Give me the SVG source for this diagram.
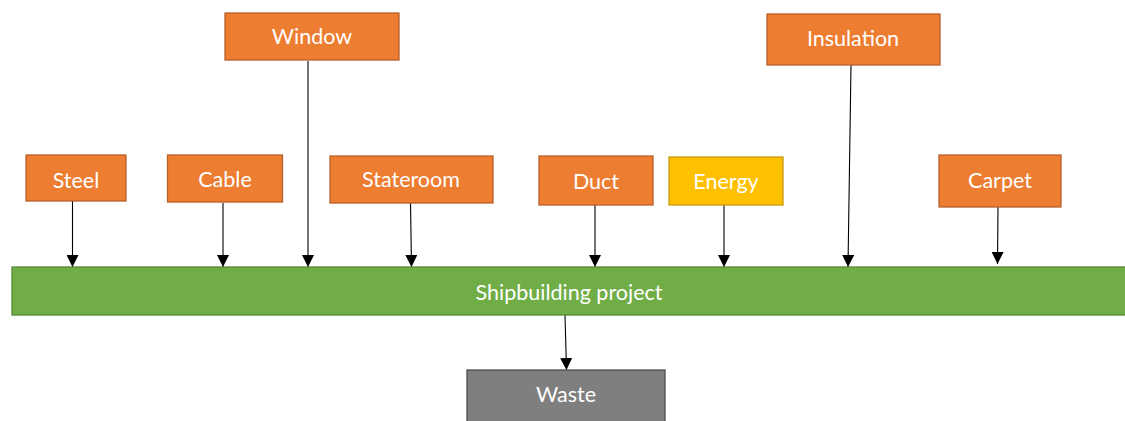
<svg xmlns="http://www.w3.org/2000/svg" width="1125" height="421" viewBox="0 0 1125 421">
  <style>
    .box { stroke-width: 1.3; }
    .orange { fill: #ED7D31; stroke: #B8602A; }
    .yellow { fill: #FFC000; stroke: #C99A10; }
    .green { fill: #70AD47; stroke: #558A35; }
    .grey { fill: #7F7F7F; stroke: #4D4D4D; }
    .label { font-family: Lato, "Liberation Sans", sans-serif; font-size: 21.5px; fill: #FFFFFF; text-anchor: middle; dominant-baseline: central; }
    .link { stroke: #000000; stroke-width: 1.1; fill: none; marker-end: url(#arrow); }
  </style>
  <defs>
    <marker id="arrow" viewBox="0 0 10 10" refX="10" refY="5" markerWidth="12" markerHeight="12" markerUnits="userSpaceOnUse" orient="auto">
      <path d="M0,0 L10,5 L0,10 Z" fill="#000000"/>
    </marker>
  </defs>
  <rect width="1125" height="421" fill="#FFFFFF"/>

  <g id="connectors">
    <line class="link" x1="72.5" y1="201" x2="72.5" y2="267"/>
    <line class="link" x1="223" y1="203" x2="223" y2="267"/>
    <line class="link" x1="308" y1="61" x2="308" y2="267"/>
    <line class="link" x1="410.5" y1="203" x2="411.5" y2="267"/>
    <line class="link" x1="595" y1="205" x2="595" y2="267"/>
    <line class="link" x1="724" y1="205" x2="724" y2="267"/>
    <line class="link" x1="851" y1="65" x2="848" y2="267"/>
    <line class="link" x1="998" y1="207" x2="997.5" y2="264"/>
    <line class="link" x1="565" y1="315" x2="566.5" y2="370"/>
  </g>

  <g id="steel">
    <rect class="box orange" x="26" y="155" width="100" height="46"/>
    <text class="label" x="76" y="180">Steel</text>
  </g>
  <g id="cable">
    <rect class="box orange" x="167.5" y="155" width="115" height="47"/>
    <text class="label" x="225" y="179">Cable</text>
  </g>
  <g id="window">
    <rect class="box orange" x="225" y="13" width="174" height="47"/>
    <text class="label" x="312" y="36">Window</text>
  </g>
  <g id="stateroom">
    <rect class="box orange" x="330" y="156" width="163" height="47"/>
    <text class="label" x="411" y="179">Stateroom</text>
  </g>
  <g id="duct">
    <rect class="box orange" x="539" y="156" width="114" height="49"/>
    <text class="label" x="596" y="181">Duct</text>
  </g>
  <g id="energy">
    <rect class="box yellow" x="669" y="157" width="114" height="48"/>
    <text class="label" x="726" y="181">Energy</text>
  </g>
  <g id="insulation">
    <rect class="box orange" x="767" y="14" width="173" height="51"/>
    <text class="label" x="853" y="38">Insulation</text>
  </g>
  <g id="carpet">
    <rect class="box orange" x="939" y="155" width="122" height="52"/>
    <text class="label" x="1000" y="180">Carpet</text>
  </g>
  <g id="shipbuilding-project">
    <rect class="box green" x="12" y="267" width="1115" height="48"/>
    <text class="label" x="569" y="292">Shipbuilding project</text>
  </g>
  <g id="waste">
    <rect class="box grey" x="467" y="370" width="198" height="55"/>
    <text class="label" x="566" y="394">Waste</text>
  </g>
</svg>
